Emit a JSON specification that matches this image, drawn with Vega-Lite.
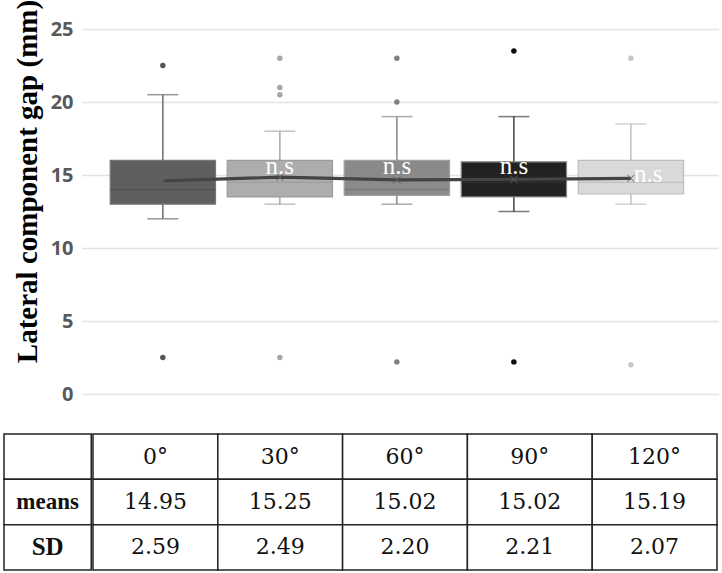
{
  "$schema": "https://vega.github.io/schema/vega-lite/v6.json",
  "padding": {"left": 3, "top": -1, "right": 0, "bottom": 0},
  "background": "white",
  "config": {"view": {"stroke": null}},
  "datasets": {
    "box": [
      {"angle": "0°", "lower": 12, "q1": 13, "median": 14, "q3": 16, "upper": 20.5, "mean": 14.6},
      {"angle": "30°", "lower": 13, "q1": 13.5, "median": 14.5, "q3": 16, "upper": 18, "mean": 14.85},
      {"angle": "60°", "lower": 13, "q1": 13.6, "median": 14, "q3": 16, "upper": 19, "mean": 14.66},
      {"angle": "90°", "lower": 12.5, "q1": 13.5, "median": 14.5, "q3": 15.9, "upper": 19, "mean": 14.7},
      {"angle": "120°", "lower": 13, "q1": 13.7, "median": 14.5, "q3": 16, "upper": 18.5, "mean": 14.77}
    ],
    "outliers": [
      {"angle": "0°", "value": 22.5}, {"angle": "0°", "value": 2.5},
      {"angle": "30°", "value": 23}, {"angle": "30°", "value": 21}, {"angle": "30°", "value": 20.5}, {"angle": "30°", "value": 2.5},
      {"angle": "60°", "value": 23}, {"angle": "60°", "value": 20}, {"angle": "60°", "value": 2.2},
      {"angle": "90°", "value": 23.5}, {"angle": "90°", "value": 2.2},
      {"angle": "120°", "value": 23}, {"angle": "120°", "value": 2.0}
    ],
    "ns": [
      {"angle": "30°", "pos": 15.07, "label": "n.s"},
      {"angle": "60°", "pos": 15.07, "label": "n.s"},
      {"angle": "90°", "pos": 15.07, "label": "n.s"},
      {"angle": "120°", "pos": 14.55, "label": "n.s"}
    ],
    "rowlabels": [
      {"col": "label", "row": "header", "label": ""},
      {"col": "label", "row": "means", "label": "means"},
      {"col": "label", "row": "SD", "label": "SD"}
    ],
    "cells": [
      {"col": "0°", "row": "header", "label": "0°"},
      {"col": "30°", "row": "header", "label": "30°"},
      {"col": "60°", "row": "header", "label": "60°"},
      {"col": "90°", "row": "header", "label": "90°"},
      {"col": "120°", "row": "header", "label": "120°"},
      {"col": "0°", "row": "means", "label": "14.95"},
      {"col": "30°", "row": "means", "label": "15.25"},
      {"col": "60°", "row": "means", "label": "15.02"},
      {"col": "90°", "row": "means", "label": "15.02"},
      {"col": "120°", "row": "means", "label": "15.19"},
      {"col": "0°", "row": "SD", "label": "2.59"},
      {"col": "30°", "row": "SD", "label": "2.49"},
      {"col": "60°", "row": "SD", "label": "2.20"},
      {"col": "90°", "row": "SD", "label": "2.21"},
      {"col": "120°", "row": "SD", "label": "2.07"}
    ]
  },
  "spacing": 29,
  "vconcat": [
    {
      "width": 637,
      "height": 365,
      "encoding": {
        "x": {"field": "angle", "type": "nominal", "axis": null,
              "scale": {"domain": ["0°", "30°", "60°", "90°", "120°"], "paddingInner": 0, "paddingOuter": 0.222, "align": 0.43}}
      },
      "layer": [
        {
          "data": {"name": "box"},
          "mark": {"type": "rule", "strokeWidth": 1.5},
          "encoding": {
            "y": {"field": "lower", "type": "quantitative",
                  "scale": {"domain": [0, 25], "nice": false},
                  "axis": {"title": "Lateral component gap (mm)", "titleFont": "Liberation Serif", "titleFontSize": 29, "titleFontWeight": "bold", "titleColor": "#000000", "titleY": 152,
                           "labelFont": "Open Sans", "labelFontWeight": "bold", "labelFontSize": 20, "labelColor": "#595959",
                           "ticks": false, "domain": false, "grid": true, "gridColor": "#e3e3e3", "gridWidth": 1.5,
                           "values": [0, 5, 10, 15, 20, 25], "labelPadding": 9, "titlePadding": 8}},
            "y2": {"field": "upper"},
            "color": {"field": "angle", "type": "nominal", "legend": null,
                      "scale": {"domain": ["0°", "30°", "60°", "90°", "120°"], "range": ["#6b6b6b", "#a6a6a6", "#888888", "#404040", "#bfbfbf"]}}
          }
        },
        {
          "data": {"name": "box"},
          "mark": {"type": "tick", "size": 31, "thickness": 1.5},
          "encoding": {
            "y": {"field": "lower", "type": "quantitative"},
            "color": {"field": "angle", "type": "nominal", "legend": null,
                      "scale": {"domain": ["0°", "30°", "60°", "90°", "120°"], "range": ["#6b6b6b", "#a6a6a6", "#888888", "#404040", "#bfbfbf"]}}
          }
        },
        {
          "data": {"name": "box"},
          "mark": {"type": "tick", "size": 31, "thickness": 1.5},
          "encoding": {
            "y": {"field": "upper", "type": "quantitative"},
            "color": {"field": "angle", "type": "nominal", "legend": null,
                      "scale": {"domain": ["0°", "30°", "60°", "90°", "120°"], "range": ["#6b6b6b", "#a6a6a6", "#888888", "#404040", "#bfbfbf"]}}
          }
        },
        {
          "data": {"name": "box"},
          "mark": {"type": "bar", "width": {"band": 0.9}, "strokeWidth": 1.2},
          "encoding": {
            "y": {"field": "q1", "type": "quantitative"},
            "y2": {"field": "q3"},
            "color": {"field": "angle", "type": "nominal", "legend": null,
                      "scale": {"domain": ["0°", "30°", "60°", "90°", "120°"], "range": ["#5f5f5f", "#adadad", "#8a8a8a", "#222222", "#d9d9d9"]}},
            "stroke": {"field": "angle", "type": "nominal", "legend": null,
                      "scale": {"domain": ["0°", "30°", "60°", "90°", "120°"], "range": ["#787878", "#9c9c9c", "#a0a0a0", "#8a8a8a", "#bcbcbc"]}}
          }
        },
        {
          "data": {"name": "box"},
          "mark": {"type": "tick", "size": 105, "thickness": 1.3},
          "encoding": {
            "y": {"field": "median", "type": "quantitative"},
            "color": {"field": "angle", "type": "nominal", "legend": null,
                      "scale": {"domain": ["0°", "30°", "60°", "90°", "120°"], "range": ["#4a4a4a", "#999999", "#707070", "#333333", "#b5b5b5"]}}
          }
        },
        {
          "data": {"name": "outliers"},
          "mark": {"type": "point", "filled": true, "size": 30, "opacity": 1},
          "encoding": {
            "y": {"field": "value", "type": "quantitative"},
            "color": {"field": "angle", "type": "nominal", "legend": null,
                      "scale": {"domain": ["0°", "30°", "60°", "90°", "120°"], "range": ["#555555", "#a6a6a6", "#808080", "#0d0d0d", "#c8c8c8"]}}
          }
        },
        {
          "data": {"name": "box"},
          "mark": {"type": "line", "color": "#444444", "strokeWidth": 3.2},
          "encoding": {
            "y": {"field": "mean", "type": "quantitative"}
          }
        },
        {
          "data": {"name": "box"},
          "mark": {"type": "point", "shape": "M-1,-1L1,1M-1,1L1,-1", "filled": false, "size": 50, "strokeWidth": 1, "color": "#606060", "opacity": 1},
          "encoding": {
            "y": {"field": "mean", "type": "quantitative"}
          }
        },
        {
          "data": {"name": "ns"},
          "transform": [{"filter": "datum.angle !== '120°'"}],
          "mark": {"type": "text", "font": "Liberation Serif", "fontSize": 25, "color": "#ffffff", "baseline": "alphabetic", "align": "center"},
          "encoding": {
            "y": {"field": "pos", "type": "quantitative"},
            "text": {"field": "label"}
          }
        },
        {
          "data": {"name": "ns"},
          "transform": [{"filter": "datum.angle === '120°'"}],
          "mark": {"type": "text", "font": "Liberation Serif", "fontSize": 25, "color": "#ffffff", "baseline": "alphabetic", "align": "left", "dx": 3},
          "encoding": {
            "y": {"field": "pos", "type": "quantitative"},
            "text": {"field": "label"}
          }
        }
      ],
      "resolve": {"scale": {"color": "independent"}}
    },
    {
      "spacing": 0,
      "hconcat": [
        {
          "width": 10,
          "height": 136,
          "data": {"name": "rowlabels"},
          "encoding": {
            "x": {"field": "col", "type": "nominal", "axis": null,
                  "scale": {"domain": ["label"], "range": [-78, 9.25], "paddingInner": 0, "paddingOuter": 0}},
            "y": {"field": "row", "type": "nominal", "axis": null,
                  "scale": {"domain": ["header", "means", "SD"], "paddingInner": 0, "paddingOuter": 0}}
          },
          "layer": [
            {"mark": {"type": "rect", "fill": "#ffffff", "stroke": "#222222", "strokeWidth": 1.5}, "encoding": {}},
            {
              "transform": [{"filter": "datum.row === 'means'"}],
              "mark": {"type": "text", "font": "Liberation Serif", "fontWeight": "bold", "fontSize": 23, "color": "#111111"},
              "encoding": {"text": {"field": "label"}}
            },
            {
              "transform": [{"filter": "datum.row === 'SD'"}],
              "mark": {"type": "text", "font": "Liberation Serif", "fontWeight": "bold", "fontSize": 25, "color": "#111111"},
              "encoding": {"text": {"field": "label"}}
            }
          ]
        },
        {
          "width": 624,
          "height": 136,
          "data": {"name": "cells"},
          "encoding": {
            "x": {"field": "col", "type": "nominal", "axis": null,
                  "scale": {"domain": ["0°", "30°", "60°", "90°", "120°"], "paddingInner": 0, "paddingOuter": 0}},
            "y": {"field": "row", "type": "nominal", "axis": null,
                  "scale": {"domain": ["header", "means", "SD"], "paddingInner": 0, "paddingOuter": 0}}
          },
          "layer": [
            {"mark": {"type": "rect", "fill": "#ffffff", "stroke": "#222222", "strokeWidth": 1.5}, "encoding": {}},
            {
              "mark": {"type": "text", "font": "DejaVu Serif", "fontSize": 22, "color": "#111111"},
              "encoding": {"text": {"field": "label"}}
            }
          ]
        }
      ]
    }
  ]
}
